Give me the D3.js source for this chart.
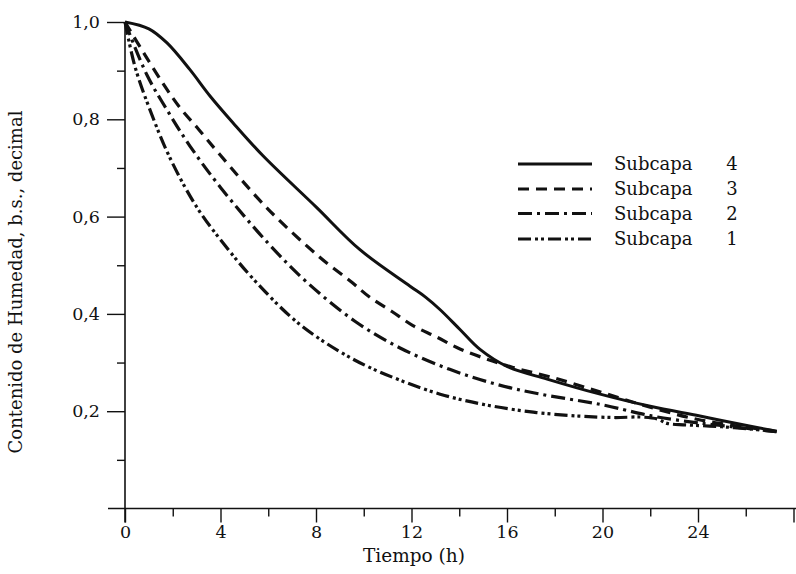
<!DOCTYPE html>
<html>
<head>
<meta charset="utf-8">
<script src="https://cdn.jsdelivr.net/npm/d3@7"></script>
<style>
body { margin: 0; background: #fff; }
svg { display: block; font-family: "DejaVu Serif", serif; }
</style>
</head>
<body>
<svg width="796" height="574"></svg>
<script>
// [tiempo (h), contenido de humedad]
const sub4 = [[0, 1.0], [1, 0.986], [1.76, 0.957], [2.72, 0.902], [3.56, 0.848], [4.52, 0.793], [5.78, 0.725],
    [8, 0.62], [9.84, 0.532], [11.94, 0.457], [12.6, 0.434], [13.19, 0.409], [14.03, 0.368], [14.87, 0.327],
    [16, 0.292], [17.68, 0.266], [19.9, 0.235], [22, 0.21], [24.08, 0.19], [26.2, 0.169], [27.3, 0.159]];
const sub3 = [[0, 1.0], [0.84, 0.932], [1.68, 0.867], [2.3, 0.824], [3.02, 0.783], [3.98, 0.727],
    [6, 0.615], [8.17, 0.516], [9.5, 0.465], [10.26, 0.434], [11.18, 0.405], [12.06, 0.376], [13.07, 0.352],
    [14.03, 0.328], [15.16, 0.307], [16.25, 0.29], [18, 0.268], [20, 0.238], [22, 0.208], [24, 0.183],
    [26, 0.167], [27.1, 0.16]];
const sub2 = [[0, 1.0], [0.92, 0.891], [1.8, 0.816], [2.72, 0.745], [4, 0.66], [6, 0.545], [7.62, 0.465],
    [9.63, 0.385], [11.52, 0.33], [13.6, 0.286], [15.58, 0.255], [17.4, 0.235], [19.9, 0.214], [21.7, 0.194],
    [22.3, 0.188], [24, 0.176], [26, 0.165], [27.3, 0.158]];
const sub1 = [[0, 1.0], [0.42, 0.908], [1.05, 0.819], [1.88, 0.721], [3, 0.62], [4.2, 0.54], [5.5, 0.465],
    [7.33, 0.378], [9.55, 0.307], [11.4, 0.266], [13.2, 0.235], [15, 0.214], [17.1, 0.198], [19, 0.19],
    [20.5, 0.187], [21.6, 0.188], [22.3, 0.184], [22.7, 0.175], [23.5, 0.172], [25, 0.168], [26.5, 0.162],
    [27.3, 0.158]];

const names = ["Subcapa 4", "Subcapa 3", "Subcapa 2", "Subcapa 1"];
const xMajor = [0, 4, 8, 12, 16, 20, 24, 28];
const xMinor = [2, 6, 10, 14, 18, 22, 26];
const yMajor = [0.2, 0.4, 0.6, 0.8, 1.0];
const yMinor = [0.1, 0.3, 0.5, 0.7, 0.9];

const dashes = [null, "11,7", "14,5,3,5", "13,4,3,3,3,4"];
const allData = [sub4, sub3, sub2, sub1];

const svg = d3.select("svg");
const x = d3.scaleLinear().domain([0, 28]).range([125, 793.5]);
const y = d3.scaleLinear().domain([0, 1]).range([508.5, 22]);

const es = d3.formatLocale({decimal: ",", thousands: ".", grouping: [3], currency: ["", ""]});
const fmt = es.format(".1f");

// eje x
const gx = svg.append("g").attr("transform", `translate(0,${y(0)})`);
gx.call(d3.axisBottom(x).tickValues(xMajor).tickSize(14).tickPadding(3)
    .tickFormat(d => d < 28 ? d : ""));
gx.call(g => g.select(".domain").remove());
const gx2 = svg.append("g").attr("transform", `translate(0,${y(0)})`)
    .call(d3.axisBottom(x).tickValues(xMinor).tickSize(8).tickFormat(""));
gx2.select(".domain").remove();
svg.append("line")
    .attr("x1", 108).attr("x2", 796)
    .attr("y1", y(0)).attr("y2", y(0))
    .attr("stroke", "#111").attr("stroke-width", 1.6);

// eje y
const gy = svg.append("g").attr("transform", `translate(${x(0)},0)`);
gy.call(d3.axisLeft(y).tickValues(yMajor).tickSize(18).tickPadding(7).tickFormat(fmt));
gy.select(".domain").remove();
const gy2 = svg.append("g").attr("transform", `translate(${x(0)},0)`)
    .call(d3.axisLeft(y).tickValues(yMinor).tickSize(8).tickFormat(""));
gy2.select(".domain").remove();
svg.append("line")
    .attr("x1", x(0)).attr("x2", x(0))
    .attr("y1", y(1)).attr("y2", y(0) + 14)
    .attr("stroke", "#111").attr("stroke-width", 1.6);

svg.selectAll(".tick line").attr("stroke", "#111").attr("stroke-width", 1.4);
svg.selectAll(".tick text").attr("font-size", 17.5).attr("fill", "#111")
    .attr("font-family", "DejaVu Serif, serif");

svg.append("text")
    .attr("x", 414).attr("y", 562)
    .attr("text-anchor", "middle")
    .attr("font-size", 18.5)
    .attr("fill", "#111")
    .text("Tiempo (h)");

svg.append("text")
    .attr("transform", "translate(22,282) rotate(-90)")
    .attr("text-anchor", "middle")
    .attr("font-size", 18)
    .attr("fill", "#111")
    .text("Contenido de Humedad, b.s., decimal");

// curvas
const line = d3.line()
    .x(d => x(d[0]))
    .y(d => y(d[1]))
    .curve(d3.curveCatmullRom.alpha(0.5));

svg.append("g")
    .selectAll("path")
    .data(allData)
    .enter().append("path")
        .attr("d", line)
        .attr("fill", "none")
        .attr("stroke", "#111")
        .attr("stroke-width", (d, i) => i == 0 ? 3 : 3.2)
        .attr("stroke-dasharray", (d, i) => dashes[i]);

// leyenda
const leg = svg.append("g");
const rowY = [164, 189, 213.5, 239];
names.forEach((n, i) => {
    leg.append("line")
        .attr("x1", 518).attr("x2", 592)
        .attr("y1", rowY[i]).attr("y2", rowY[i])
        .attr("stroke", "#111").attr("stroke-width", 3)
        .attr("stroke-dasharray", dashes[i]);
    leg.append("text")
        .attr("x", 614).attr("y", rowY[i] + 1)
        .attr("font-size", 18).attr("fill", "#111")
        .attr("dominant-baseline", "middle")
        .text(n.split(" ")[0]);
    leg.append("text")
        .attr("x", 732).attr("y", rowY[i] + 1)
        .attr("text-anchor", "middle")
        .attr("font-size", 18).attr("fill", "#111")
        .attr("dominant-baseline", "middle")
        .text(n.split(" ")[1]);
});
</script>
</body>
</html>
